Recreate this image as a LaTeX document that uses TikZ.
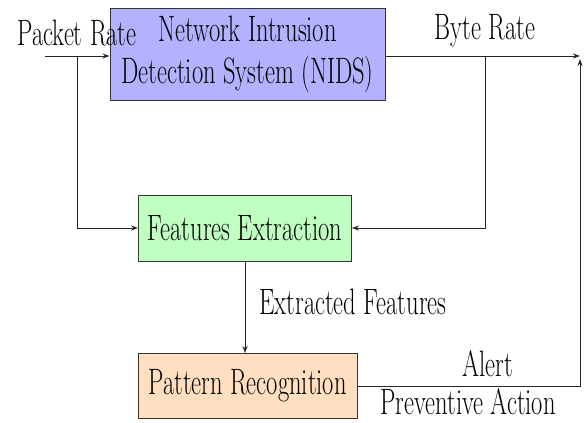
\documentclass[tikz,border=0pt]{standalone}
\usepackage{graphicx}
\usetikzlibrary{arrows.meta}
\newcommand{\vs}[1]{\scalebox{1}[1.5]{#1}}
\tikzset{
  box/.style={draw=black!80, line width=1pt, inner sep=0pt, font=\fontsize{24.5}{28}\selectfont},
  lbl/.style={inner sep=0pt, font=\fontsize{24.5}{28}\selectfont},
  arr/.style={draw=black!85, line width=0.9pt, -{Stealth[length=7pt,width=5pt]}},
}
\begin{document}
\begin{tikzpicture}[x=1pt,y=-1pt]
\useasboundingbox (0,0) rectangle (584,423);
\node[box, fill=blue!30, minimum width=275pt, minimum height=92pt] (nids) at (247.5,54)
  {\vs{\begin{tabular}{@{}c@{}}Network Intrusion\\Detection System (NIDS)\end{tabular}}};
\node[box, fill=green!25, minimum width=213pt, minimum height=66pt] (fe) at (245,228)
  {\vs{Features Extraction}};
\node[box, fill=orange!25, minimum width=219pt, minimum height=65pt] (pr) at (247.5,386)
  {\vs{Pattern Recognition}};
\node[lbl] (pkt) at (77,33) {\vs{Packet Rate}};
\node[lbl] (byte) at (485,31) {\vs{Byte Rate}};
\node[lbl] (ext) at (353,302) {\vs{Extracted Features}};
\node[lbl] (alert) at (488,364) {\vs{Alert}};
\node[lbl] (prev) at (468,402) {\vs{Preventive Action}};
\coordinate (pin) at (45,56);
\coordinate (split1) at (77,56);
\coordinate (out) at (580,56);
\coordinate (out2) at (580,59);
\coordinate (split2) at (485,56);
\draw[arr] (pin) -- (pin -| nids.west);
\draw[arr] (split1) |- (fe.west);
\draw[arr] (nids.east |- out) -- (out);
\draw[arr] (split2) |- (fe.east);
\draw[arr] (fe.south) -- (fe.south |- pr.north);
\draw[arr] (pr.east) -| (out2);
\end{tikzpicture}
\end{document}
